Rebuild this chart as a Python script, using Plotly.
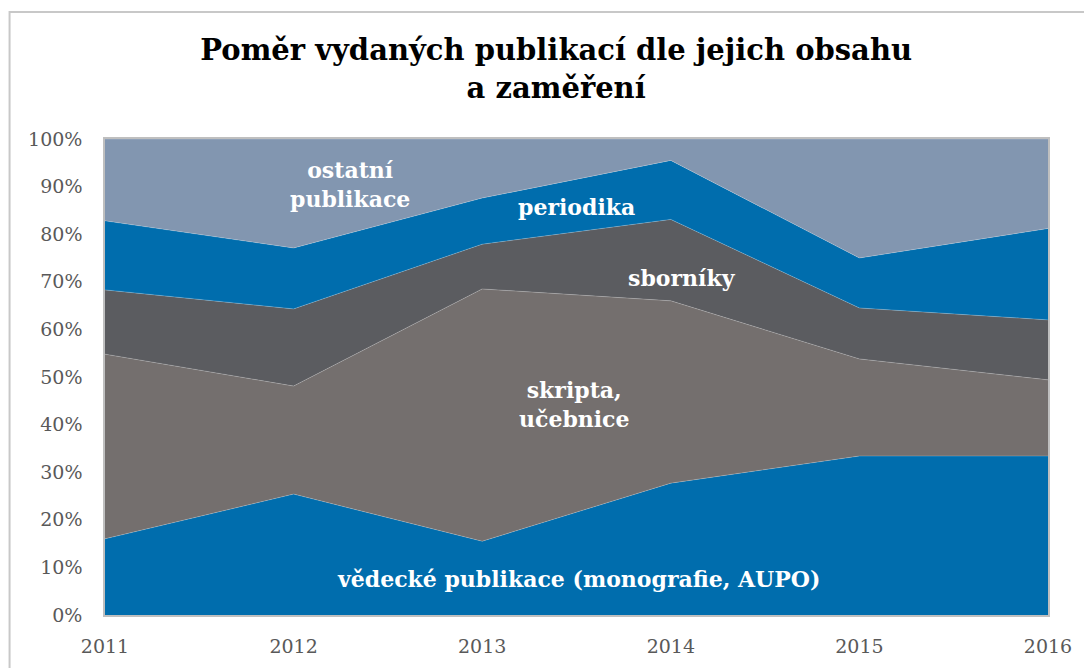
import plotly.graph_objects as go

years = [2011, 2012, 2013, 2014, 2015, 2016]
series_names = ["vědecké publikace", "skripta, učebnice", "sborníky", "periodika", "ostatní publikace"]
vedecke = [16.0, 25.4, 15.5, 27.7, 33.4, 33.4]
skripta = [38.8, 22.7, 53.0, 38.3, 20.4, 16.0]
sborniky = [13.5, 16.2, 9.4, 17.1, 10.7, 12.6]
periodika = [14.5, 12.8, 9.7, 12.4, 10.5, 19.2]
ostatni = [17.2, 22.9, 12.4, 4.5, 25.0, 18.8]
colors = ["#006DAD", "#746F6E", "#5B5C60", "#006DAD", "#8296B0"]

fig = go.Figure()
for name, vals, col in zip(series_names, [vedecke, skripta, sborniky, periodika, ostatni], colors):
    fig.add_trace(go.Scatter(
        x=years, y=vals, name=name, mode="lines", stackgroup="one", groupnorm="percent",
        line=dict(width=0.6, color="rgba(255,255,255,0.35)"), fillcolor=col,
    ))

font_fam = "DejaVu Serif"
labels = [
    ("ostatní<br>publikace", 2012.30, 90.5),
    ("periodika", 2013.50, 85.7),
    ("sborníky", 2014.06, 70.8),
    ("skripta,<br>učebnice", 2013.49, 44.3),
    ("vědecké publikace (monografie, AUPO)", 2013.51, 7.6),
]
for txt, x, y in labels:
    fig.add_annotation(x=x, y=y, text=txt, showarrow=False,
                       font=dict(family=font_fam, size=22, color="white", weight="bold"))

fig.add_shape(type="rect", xref="paper", yref="paper", x0=-0.1012, y0=-0.3, x1=1.2, y1=1.267,
              line=dict(color="#C8C8C8", width=2), layer="below")

fig.update_layout(
    width=1092, height=668,
    margin=dict(l=97, r=52, t=131, b=61),
    paper_bgcolor="white", plot_bgcolor="white",
    showlegend=False,
    title=dict(text="<b>Poměr vydaných publikací dle jejich obsahu<br>a zaměření</b>",
               x=0.502, xanchor="center", y=0.922, yanchor="middle",
               font=dict(family=font_fam, size=29, color="black")),
    xaxis=dict(range=[2011, 2016], tickvals=years, ticktext=[str(y) for y in years],
               showgrid=False, zeroline=False, showline=True, linecolor="#BFBFBF", linewidth=1.5,
               mirror=True, ticks="outside", ticklen=13, tickcolor="rgba(0,0,0,0)",
               tickfont=dict(family=font_fam, size=19, color="#595959")),
    yaxis=dict(range=[0, 100], dtick=10, ticksuffix="%", showgrid=False, zeroline=False,
               showline=True, linecolor="#BFBFBF", linewidth=1.5, mirror=True,
               ticks="outside", ticklen=17, tickcolor="rgba(0,0,0,0)",
               tickfont=dict(family=font_fam, size=19, color="#595959")),
)
fig.write_html("out.html")
